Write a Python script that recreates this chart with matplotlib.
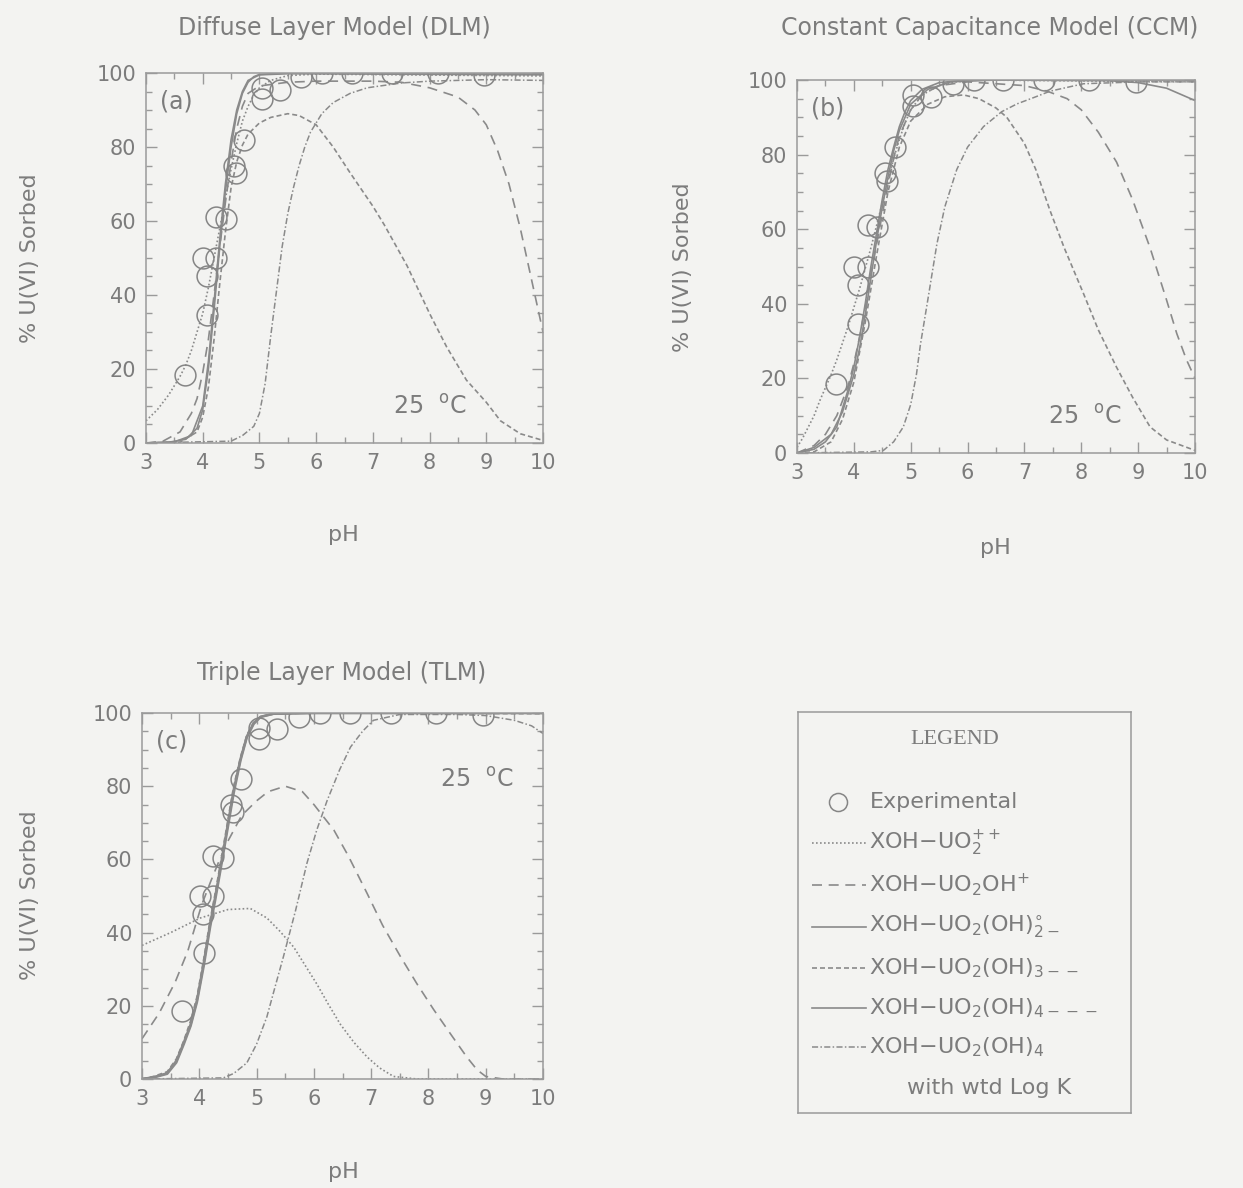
import matplotlib
matplotlib.use("Agg")
import matplotlib.pyplot as plt
from matplotlib.ticker import MultipleLocator

plt.rcParams['font.family'] = ['DejaVu Sans']
plt.rcParams['mathtext.default'] = 'regular'
plt.rcParams['mathtext.fontset'] = 'dejavusans'

# ---------------- data ----------------
exp_ph = [3.69, 4.01, 4.07, 4.08, 4.24, 4.24, 4.41, 4.55, 4.59, 4.73, 5.04, 5.04,
          5.36, 5.74, 6.11, 6.63, 7.34, 8.14, 8.96]
exp_sorbed = [18.5, 50, 45, 34.5, 50, 61, 60.5, 75, 73, 82, 96, 93,
              95.5, 99, 100, 100, 100, 100, 99.5]

# Panel (a) DLM
a_pp_ph = [3.0, 3.2, 3.4, 3.5, 3.6, 3.7, 3.8, 3.9, 4.0, 4.1, 4.2, 4.3, 4.4, 4.5, 4.6, 4.7, 4.8, 4.9, 5.0, 5.2, 5.5, 6.0, 10.0]
a_pp_y = [6, 9, 13, 15.5, 18, 21, 25, 30, 35, 42, 50, 58, 66, 74, 81, 87, 91, 94, 96, 98, 99.3, 99.7, 99.2]
a_oh_ph = [3.0, 3.3, 3.6, 3.8, 3.9, 4.0, 4.1, 4.2, 4.3, 4.4, 4.5, 4.6, 4.7, 4.8, 5.0, 5.5, 6.0, 7.0, 7.5, 8.0, 8.5, 8.8, 9.0, 9.2, 9.4, 9.6, 9.8, 10.0]
a_oh_y = [0, 0.5, 3, 8, 12, 19, 28, 40, 53, 65, 76, 85, 91, 94.5, 96.5, 97.5, 97.8, 97.8, 97.5, 96, 93.5, 90, 86, 79, 70, 58, 44, 30]
a_s2_ph = [3.0, 3.4, 3.7, 3.9, 4.0, 4.1, 4.2, 4.3, 4.4, 4.5, 4.6, 4.7, 4.8, 4.9, 5.0, 5.5, 10.0]
a_s2_y = [0, 0.2, 1, 4, 9, 20, 36, 53, 68, 80, 89, 94.5, 97.5, 99, 99.6, 100, 100]
a_s3_ph = [3.0, 3.6, 3.9, 4.0, 4.1, 4.2, 4.3, 4.4, 4.5, 4.6, 4.7, 4.8, 5.0, 5.2, 5.5, 5.7, 6.0, 6.3, 6.6, 7.0, 7.2, 7.6, 8.0, 8.3, 8.65, 9.0, 9.25, 9.6, 10.0]
a_s3_y = [0, 0.2, 3, 7, 15, 28, 43, 57, 69, 76, 80.5, 83.5, 86.5, 88, 89, 88.5, 86, 80, 73, 64, 59, 48, 35, 26, 17, 11, 6, 2.5, 0.7]
a_s4_ph = [3.0, 3.5, 3.8, 4.0, 4.1, 4.2, 4.3, 4.4, 4.5, 4.6, 4.7, 4.8, 5.0, 5.5, 10.0]
a_s4_y = [0, 0.3, 2, 10, 22, 38, 55, 70, 82, 90, 95, 98, 99.5, 99.8, 99.5]
a_wt_ph = [3.0, 4.5, 4.7, 4.9, 5.0, 5.1, 5.2, 5.3, 5.4, 5.5, 5.6, 5.7, 5.8, 5.9, 6.1, 6.3, 6.6, 6.9, 7.5, 8.0, 9.0, 10.0]
a_wt_y = [0, 0.5, 2, 4.5, 8, 16, 29, 41, 53, 62, 69, 75, 80, 84, 89, 92, 94.5, 96, 97.3, 97.8, 98.2, 98]

# Panel (b) CCM
b_pp_ph = [3.0, 3.1, 3.2, 3.3, 3.4, 3.5, 3.6, 3.7, 3.8, 3.9, 4.0, 4.1, 4.2, 4.3, 4.4, 4.5, 4.6, 4.7, 4.8, 4.9, 5.0, 5.2, 5.5, 5.8, 6.2, 10.0]
b_pp_y = [1.5, 4, 7, 10, 14, 17.5, 21, 25, 29.5, 34, 39, 44, 49.5, 55, 61, 67, 73, 79, 84, 88.5, 92, 96, 98.5, 99.5, 100, 99.5]
b_oh_ph = [3.0, 3.3, 3.5, 3.7, 3.9, 4.0, 4.1, 4.2, 4.3, 4.4, 4.5, 4.6, 4.7, 4.8, 5.0, 5.2, 5.5, 6.0, 7.0, 7.4, 7.75, 8.0, 8.3, 8.62, 8.9, 9.21, 9.5, 9.68, 9.85, 10.0]
b_oh_y = [0, 2, 5, 10, 18, 24, 31, 39, 48, 56, 64, 72, 79, 85, 92, 96, 98.5, 99.5, 98.5, 97, 95, 92, 86, 78, 68, 55, 41, 32, 25, 20]
b_s2_ph = [3.0, 3.3, 3.5, 3.7, 3.9, 4.0, 4.1, 4.2, 4.3, 4.4, 4.5, 4.6, 4.7, 4.8, 4.9, 5.0, 5.2, 5.5, 6.0, 10.0]
b_s2_y = [0, 1, 3, 7, 17, 23, 31, 40, 50, 59, 68, 76, 82, 87.5, 91.5, 94.5, 97.5, 99.3, 100, 100]
b_s3_ph = [3.0, 3.3, 3.6, 3.8, 4.0, 4.2, 4.4, 4.6, 4.8, 5.0, 5.3, 5.6, 5.93, 6.2, 6.5, 6.69, 7.0, 7.2, 7.45, 7.7, 8.04, 8.3, 8.62, 8.9, 9.21, 9.5, 10.0]
b_s3_y = [0, 0.3, 3, 9, 19, 35, 53, 70, 82, 89, 93.5, 95.5, 96, 95, 92.5, 90, 83, 76, 65, 55, 42.7, 33, 23, 15, 7, 3.5, 0.7]
b_s4_ph = [3.0, 3.3, 3.6, 3.8, 4.0, 4.1, 4.2, 4.3, 4.4, 4.5, 4.6, 4.7, 4.8, 5.0, 5.3, 5.7, 6.5, 8.5, 9.0, 9.5, 10.0]
b_s4_y = [0, 1.5, 5, 11, 21, 28, 37, 47, 57, 66, 74, 81, 86.5, 93.5, 97.5, 99.5, 100, 99.8, 99.3, 97.8, 94.5]
b_wt_ph = [3.0, 4.3, 4.52, 4.7, 4.87, 5.0, 5.1, 5.17, 5.3, 5.46, 5.6, 5.81, 6.0, 6.28, 6.6, 6.87, 7.2, 7.45, 8.04, 9.0, 10.0]
b_wt_y = [0, 0.3, 0.7, 3, 7, 13, 21, 29, 41, 56, 66, 76, 82, 87.5, 91.5, 93.6, 95.5, 97, 99, 99.5, 99.5]

# Panel (c) TLM
c_pp_ph = [3.0, 3.5, 4.02, 4.5, 4.89, 5.18, 5.4, 5.65, 5.85, 6.05, 6.25, 6.46, 6.7, 6.93, 7.15, 7.39, 7.8, 10.0]
c_pp_y = [36.5, 40, 44, 46.3, 46.6, 44, 40.5, 36, 31, 26, 20.5, 15, 10, 6, 3, 0.7, 0, 0]
c_oh_ph = [3.0, 3.3, 3.58, 3.8, 4.04, 4.2, 4.33, 4.5, 4.74, 5.0, 5.2, 5.5, 5.8, 6.0, 6.35, 6.6, 6.93, 7.2, 7.51, 7.8, 8.09, 8.4, 8.67, 8.85, 9.0, 9.3, 10.0]
c_oh_y = [11, 18, 26.5, 35, 47.5, 54, 59, 65, 72, 76, 78.5, 80, 78.5, 75, 68, 61, 50.7, 42, 33.5, 26, 19, 12, 6, 2.5, 0.7, 0, 0]
c_s2_ph = [3.0, 3.2, 3.44, 3.6, 3.73, 3.85, 3.96, 4.08, 4.19, 4.28, 4.37, 4.48, 4.6, 4.72, 4.83, 4.95, 5.07, 5.3, 6.0, 10.0]
c_s2_y = [0, 0.5, 1.6, 5, 10, 15, 21.6, 32, 42.5, 50, 58, 68, 79, 87.5, 93.6, 97.3, 99, 99.8, 100, 100]
c_s3_ph = [3.0, 3.2, 3.44, 3.6, 3.73, 3.85, 3.96, 4.08, 4.19, 4.28, 4.37, 4.48, 4.6, 4.72, 4.83, 4.95, 5.07, 5.3, 6.0, 10.0]
c_s3_y = [0, 0.7, 2, 5.5, 10.5, 16, 22.5, 33, 43.5, 51, 59, 69, 80, 88, 94, 97.5, 99, 99.8, 100, 99.8]
c_s4_ph = [3.0, 3.2, 3.44, 3.6, 3.73, 3.85, 3.96, 4.08, 4.19, 4.28, 4.37, 4.48, 4.6, 4.72, 4.83, 4.95, 5.07, 5.3, 6.0, 10.0]
c_s4_y = [0, 0.4, 1.4, 4.5, 9.5, 14.5, 21, 31, 41.5, 49, 57, 67, 78, 87, 93.3, 97, 98.9, 99.8, 100, 100]
c_wt_ph = [3.0, 4.42, 4.6, 4.83, 5.0, 5.18, 5.32, 5.47, 5.68, 5.88, 6.05, 6.23, 6.45, 6.64, 6.85, 7.04, 7.5, 8.5, 9.0, 9.5, 9.8, 10.0]
c_wt_y = [0, 0.3, 1.5, 4.4, 9.5, 17, 25, 33.5, 46, 59, 68, 76, 84.5, 90.7, 95, 98, 99.6, 99.6, 99.3, 98, 96.5, 94.4]

titles = ["Diffuse Layer Model (DLM)", "Constant Capacitance Model (CCM)", "Triple Layer Model (TLM)"]
panel_tags = ["(a)", "(b)", "(c)"]
xticks = [3, 4, 5, 6, 7, 8, 9, 10]
yticks = [0, 20, 40, 60, 80, 100]

legend_labels = [
    "Experimental",
    r"XOH$-$UO$_2^{++}$",
    r"XOH$-$UO$_2$OH$^{+}$",
    r"XOH$-$UO$_2$(OH)$_{2-}^{\circ}$",
    r"XOH$-$UO$_2$(OH)$_{3--}$",
    r"XOH$-$UO$_2$(OH)$_{4---}$",
    r"XOH$-$UO$_2$(OH)$_4$",
]

# ---------------- style ----------------
BG = '#f3f3f1'
TXT = '#7c7c7c'
LN = '#8a8a8a'
SP = '#9a9a9a'

styles = {
    'pp': dict(ls=(0, (1, 1.4)), lw=1.2),
    'oh': dict(ls=(0, (6, 4)), lw=1.2),
    's2': dict(ls='-', lw=1.2),
    's3': dict(ls=(0, (3, 1.8)), lw=1.2),
    's4': dict(ls='-', lw=1.2),
    'wt': dict(ls=(0, (4, 1.5, 1, 1.5)), lw=1.1),
}

W, H = 1243, 1188
fig = plt.figure(figsize=(W / 100, H / 100), dpi=100)
fig.patch.set_facecolor(BG)


def box(l, t, r, b):
    return [l / W, 1 - b / H, (r - l) / W, (b - t) / H]


panels = [
    dict(rect=box(146, 73, 543, 443),
         curves=[('pp', a_pp_ph, a_pp_y), ('oh', a_oh_ph, a_oh_y), ('s2', a_s2_ph, a_s2_y),
                 ('s3', a_s3_ph, a_s3_y), ('s4', a_s4_ph, a_s4_y), ('wt', a_wt_ph, a_wt_y)],
         title_xy=(334, 28), temp=(7.36, 6.5), ylab=(30, 258), xlab=(343, 535)),
    dict(rect=box(797, 80, 1195, 453),
         curves=[('pp', b_pp_ph, b_pp_y), ('oh', b_oh_ph, b_oh_y), ('s2', b_s2_ph, b_s2_y),
                 ('s3', b_s3_ph, b_s3_y), ('s4', b_s4_ph, b_s4_y), ('wt', b_wt_ph, b_wt_y)],
         title_xy=(990, 28), temp=(7.41, 6.5), ylab=(683, 267), xlab=(995, 548)),
    dict(rect=box(142, 713, 543, 1079),
         curves=[('pp', c_pp_ph, c_pp_y), ('oh', c_oh_ph, c_oh_y), ('s2', c_s2_ph, c_s2_y),
                 ('s3', c_s3_ph, c_s3_y), ('s4', c_s4_ph, c_s4_y), ('wt', c_wt_ph, c_wt_y)],
         title_xy=(342, 673), temp=(8.2, 78.5), ylab=(30, 895), xlab=(343, 1172)),
]

for i, p in enumerate(panels):
    ax = fig.add_axes(p['rect'])
    ax.set_facecolor(BG)
    for key, xs, ys in p['curves']:
        st = styles[key]
        lw = st['lw'] + (0.5 if (i == 2 and key in ('s2', 's4')) else 0)
        ax.plot(xs, ys, color=LN, linestyle=st['ls'], linewidth=lw)
    ax.plot(exp_ph, exp_sorbed, linestyle='none', marker='o', markersize=15,
            markerfacecolor='none', markeredgecolor='#858585', markeredgewidth=1.1)
    ax.set_xlim(3, 10)
    ax.set_ylim(0, 100)
    ax.set_xticks(xticks)
    ax.set_yticks(yticks)
    ax.xaxis.set_minor_locator(MultipleLocator(0.5))
    ax.yaxis.set_minor_locator(MultipleLocator(5))
    ax.tick_params(which='both', direction='in', top=True, right=True, color=SP,
                   labelcolor=TXT, labelsize=15, width=1)
    ax.tick_params(which='major', length=8, pad=7)
    ax.tick_params(which='minor', length=4)
    for s in ax.spines.values():
        s.set_color(SP)
        s.set_linewidth(1.1)
    ax.text(0.035, 0.955, panel_tags[i], transform=ax.transAxes, ha='left', va='top',
            fontsize=17, color=TXT)
    ax.text(p['temp'][0], p['temp'][1], r"25  $^{\rm o}$C", ha='left', va='bottom',
            fontsize=17, color=TXT)
    fig.text(p['title_xy'][0] / W, 1 - p['title_xy'][1] / H, titles[i], ha='center',
             va='center', fontsize=17, color=TXT)
    fig.text(p['ylab'][0] / W, 1 - p['ylab'][1] / H, "% U(VI) Sorbed", ha='center',
             va='center', rotation=90, fontsize=16, color=TXT)
    fig.text(p['xlab'][0] / W, 1 - p['xlab'][1] / H, "pH", ha='center', va='center',
             fontsize=16, color=TXT)

# ---------------- legend box ----------------
lg = fig.add_axes(box(798, 712, 1131, 1113))
lg.set_facecolor(BG)
lg.set_xlim(798, 1131)
lg.set_ylim(1113, 712)
lg.set_xticks([])
lg.set_yticks([])
for s in lg.spines.values():
    s.set_color(SP)
    s.set_linewidth(1.1)

lg.text(955, 740, "LEGEND", ha='center', va='center', fontsize=16, color=TXT,
        family=['Liberation Serif', 'DejaVu Serif'])
lg.plot([838], [802], marker='o', markersize=13, markerfacecolor='none',
        markeredgecolor='#858585', markeredgewidth=1.1, linestyle='none')
lg.text(870, 802, legend_labels[0], ha='left', va='center', fontsize=16, color=TXT)

row_y = [843, 885, 927, 968, 1008, 1047]
row_keys = ['pp', 'oh', 's2', 's3', 's4', 'wt']
for k, (yy, key) in enumerate(zip(row_y, row_keys)):
    st = styles[key]
    lg.plot([812, 866], [yy, yy], color=LN, linestyle=st['ls'], linewidth=st['lw'])
    lg.text(869, yy, legend_labels[k + 1], ha='left', va='center', fontsize=16, color=TXT)
lg.text(907, 1088, "with wtd Log K", ha='left', va='center', fontsize=16, color=TXT)

fig.savefig("out.png", dpi=100, facecolor=BG)
